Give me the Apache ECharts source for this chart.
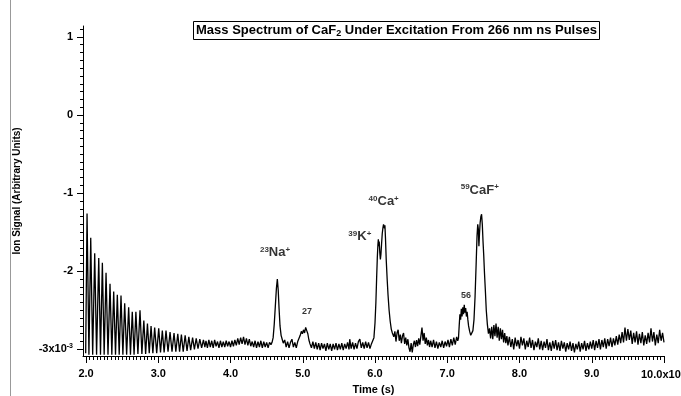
<!DOCTYPE html>
<html>
<head>
<meta charset="utf-8">
<script src="https://cdn.jsdelivr.net/npm/echarts@6/dist/echarts.min.js"></script>
<style>
  html, body { margin: 0; padding: 0; background: #fff; }
  #chart { width: 681px; height: 396px; }
</style>
</head>
<body>
<div id="chart"></div>
<script>
// time (x1e-6 s) / ion signal (x1e-3 arb. units)
var ringdown = [
  [1.995,-3.05],[2.014,-1.26],[2.040,-3.07],[2.065,-1.57],[2.092,-3.07],[2.120,-1.77],[2.146,-3.07],
  [2.176,-1.83],[2.200,-3.07],[2.226,-1.89],[2.251,-3.07],[2.277,-2.02],[2.304,-3.07],[2.332,-2.16],
  [2.357,-3.07],[2.383,-2.26],[2.408,-3.07],[2.433,-2.30],[2.459,-3.07],[2.484,-2.31],[2.510,-3.07],
  [2.535,-2.41],[2.562,-3.07],[2.590,-2.46],[2.615,-3.07],[2.640,-2.52],[2.665,-3.07],[2.690,-2.52],
  [2.718,-3.06],[2.747,-2.50],[2.773,-3.06],[2.800,-2.63],[2.825,-3.06],[2.850,-2.67],[2.875,-3.05],
  [2.900,-2.70],[2.925,-3.05],[2.950,-2.72],[2.978,-3.05],[3.006,-2.73],[3.031,-3.04],[3.056,-2.76],
  [3.081,-3.04],[3.107,-2.76],[3.135,-3.03],[3.163,-2.78],[3.190,-3.03],[3.218,-2.79],[3.243,-3.03],
  [3.270,-2.80],[3.295,-3.03],[3.320,-2.81],[3.345,-3.03],[3.372,-2.82],[3.398,-3.02],[3.423,-2.84],
  [3.448,-3.01],[3.475,-2.85],[3.500,-3.00],[3.525,-2.86],[3.550,-2.99],[3.575,-2.87],[3.600,-2.98],
  [3.625,-2.88],[3.645,-2.97]
];
var baselineA = [
  [3.66,-2.89],[3.68,-2.98],[3.70,-2.88],[3.72,-2.97],[3.74,-2.89],[3.76,-2.98],[3.78,-2.88],[3.80,-2.96],
  [3.82,-2.90],[3.84,-2.98],[3.86,-2.89],[3.88,-2.97],[3.90,-2.90],[3.92,-2.97],[3.94,-2.89],[3.96,-2.96],
  [3.98,-2.90],[4.00,-2.97],[4.02,-2.89],[4.04,-2.96],[4.06,-2.88],[4.08,-2.95],[4.10,-2.86],[4.12,-2.94],
  [4.14,-2.85],[4.16,-2.93],[4.18,-2.84],[4.20,-2.94],[4.22,-2.86],[4.24,-2.95],[4.26,-2.87],[4.28,-2.96],
  [4.30,-2.90],[4.32,-2.97],[4.34,-2.89],[4.36,-2.98],[4.38,-2.90],[4.40,-2.97],[4.42,-2.89],[4.44,-2.98],
  [4.46,-2.90],[4.48,-2.97],[4.50,-2.91],[4.52,-2.98],[4.54,-2.91]
];
var sodiumPeak = [
  [4.56,-2.94],[4.575,-2.91],[4.59,-2.85],[4.605,-2.68],[4.62,-2.45],[4.635,-2.22],[4.648,-2.10],
  [4.66,-2.24],[4.672,-2.48],[4.685,-2.70],[4.70,-2.82],[4.715,-2.87],[4.73,-2.92]
];
var baselineB = [
  [4.75,-2.88],[4.77,-2.97],[4.79,-2.90],[4.81,-2.98],[4.83,-2.91],[4.85,-2.87],[4.87,-2.97],
  [4.89,-2.91],[4.91,-2.98],[4.93,-2.90]
];
var mass27Bump = [
  [4.95,-2.88],[4.965,-2.82],[4.98,-2.77],[4.995,-2.80],[5.01,-2.75],[5.025,-2.79],[5.04,-2.72],
  [5.055,-2.76],[5.07,-2.80],[5.085,-2.88],[5.10,-2.93]
];
var baselineC = [
  [5.12,-2.98],[5.14,-2.90],[5.16,-2.99],[5.18,-2.91],[5.20,-3.00],[5.22,-2.92],[5.24,-3.01],[5.26,-2.92],
  [5.28,-2.99],[5.30,-2.93],[5.32,-3.02],[5.34,-2.92],[5.36,-3.00],[5.38,-2.93],[5.40,-3.02],[5.42,-2.93],
  [5.44,-3.00],[5.46,-2.92],[5.48,-3.01],[5.50,-2.93],[5.52,-3.00],[5.54,-2.92],[5.56,-3.01],[5.58,-2.93],
  [5.60,-2.99],[5.62,-2.91],[5.64,-3.00],[5.65,-2.87],[5.67,-2.99],[5.69,-2.91],[5.71,-3.00],[5.73,-2.92],
  [5.75,-2.99],[5.77,-2.90],[5.79,-2.87],[5.81,-2.98],[5.83,-2.91],[5.85,-2.99],[5.87,-2.90],[5.89,-2.98],
  [5.91,-2.91],[5.93,-2.99],[5.95,-2.93]
];
var potassiumCalciumPeak = [
  [5.97,-2.92],[5.985,-2.85],[6.00,-2.66],[6.012,-2.40],[6.022,-2.10],[6.032,-1.82],[6.04,-1.66],
  [6.046,-1.59],[6.052,-1.68],[6.058,-1.62],[6.066,-1.76],[6.074,-1.85],[6.082,-1.78],[6.09,-1.66],
  [6.10,-1.52],[6.11,-1.44],[6.118,-1.40],[6.125,-1.38],[6.131,-1.45],[6.137,-1.41],[6.145,-1.58],
  [6.155,-1.85],[6.168,-2.10],[6.18,-2.30],[6.195,-2.50],[6.21,-2.64],[6.225,-2.74],[6.24,-2.79]
];
var baselineD = [
  [6.26,-2.84],[6.275,-2.77],[6.29,-2.90],[6.305,-2.79],[6.32,-2.75],[6.335,-2.89],[6.35,-2.81],
  [6.365,-2.92],[6.38,-2.83],[6.395,-2.79],[6.41,-2.93],[6.425,-2.85],[6.44,-2.95],[6.455,-2.87],
  [6.47,-2.98],[6.485,-3.03],[6.50,-2.92],[6.515,-3.04],[6.53,-2.94],[6.545,-2.89],[6.56,-2.97],
  [6.575,-2.88],[6.59,-2.96],[6.605,-2.86],[6.62,-2.94],[6.635,-2.83],[6.65,-2.72],[6.665,-2.89],
  [6.68,-2.79],[6.695,-2.93],[6.71,-2.85],[6.725,-2.95],[6.74,-2.88],[6.755,-2.97],[6.77,-2.89],
  [6.79,-2.97],[6.81,-2.88],[6.83,-2.98],[6.85,-2.90],[6.87,-2.99],[6.89,-2.91],[6.91,-2.97],
  [6.93,-2.89],[6.95,-2.98],[6.97,-2.90],[6.99,-2.96],[7.01,-2.88],[7.03,-2.97],[7.05,-2.87],
  [7.07,-2.95],[7.09,-2.85],[7.11,-2.94],[7.13,-2.84],[7.145,-2.89]
];
var mass56Peak = [
  [7.155,-2.86],[7.165,-2.70],[7.175,-2.55],[7.185,-2.62],[7.195,-2.48],[7.205,-2.58],[7.215,-2.46],
  [7.225,-2.55],[7.235,-2.43],[7.245,-2.53],[7.255,-2.47],[7.265,-2.58],[7.275,-2.52],[7.285,-2.62],
  [7.295,-2.70],[7.31,-2.77],[7.325,-2.82],[7.34,-2.80]
];
var cafPeak = [
  [7.355,-2.76],[7.37,-2.62],[7.385,-2.32],[7.40,-1.90],[7.412,-1.55],[7.422,-1.40],[7.43,-1.46],
  [7.438,-1.68],[7.446,-1.52],[7.455,-1.38],[7.465,-1.30],[7.475,-1.27],[7.485,-1.40],[7.495,-1.62],
  [7.505,-1.80],[7.515,-2.02],[7.528,-2.26],[7.54,-2.50],[7.555,-2.68],[7.57,-2.80]
];
var cafShoulder = [
  [7.585,-2.73],[7.60,-2.86],[7.615,-2.71],[7.63,-2.87],[7.645,-2.69],[7.66,-2.83],[7.675,-2.67],
  [7.69,-2.85],[7.705,-2.71],[7.72,-2.89],[7.735,-2.73],[7.75,-2.87],[7.765,-2.75],[7.78,-2.91],
  [7.795,-2.79],[7.81,-2.92],[7.825,-2.83]
];
var baselineE = [
  [7.84,-2.95],[7.86,-2.84],[7.88,-2.97],[7.90,-2.87],[7.92,-3.00],[7.94,-2.85],[7.96,-2.96],[7.98,-2.88],
  [8.00,-2.99],[8.02,-2.84],[8.04,-2.95],[8.06,-2.86],[8.08,-3.00],[8.10,-2.89],[8.12,-2.97],[8.14,-2.85],
  [8.16,-2.98],[8.18,-2.88],[8.20,-3.01],[8.22,-2.90],[8.24,-2.97],[8.26,-2.86],[8.28,-3.00],[8.30,-2.89],
  [8.32,-3.01],[8.34,-2.90],[8.36,-2.98],[8.38,-2.87],[8.40,-3.01],[8.42,-2.91],[8.44,-3.02],[8.46,-2.89],
  [8.48,-2.99],[8.50,-2.88],[8.52,-3.01],[8.54,-2.91],[8.56,-3.02],[8.58,-2.89],[8.60,-2.99],[8.62,-2.91],
  [8.64,-3.03],[8.66,-2.92],[8.68,-3.00],[8.70,-2.90],[8.72,-3.02],[8.74,-2.92],[8.76,-3.04],[8.78,-2.93],
  [8.80,-3.00],[8.82,-2.90],[8.84,-3.03],[8.86,-2.92],[8.88,-3.00],[8.90,-2.89],[8.92,-3.02],[8.94,-2.92],
  [8.96,-3.00],[8.98,-2.90],[9.00,-2.99],[9.02,-2.88],[9.04,-3.01],[9.06,-2.89],[9.08,-2.98],[9.10,-2.87],
  [9.12,-3.00],[9.14,-2.88],[9.16,-2.97],[9.18,-2.86],[9.20,-2.99],[9.22,-2.87],[9.24,-2.96],[9.26,-2.85],
  [9.28,-2.97],[9.30,-2.86],[9.32,-2.95],[9.34,-2.83],[9.36,-2.94],[9.38,-2.81],[9.40,-2.92],[9.42,-2.78],
  [9.44,-2.91],[9.46,-2.72],[9.48,-2.89],[9.50,-2.74],[9.52,-2.88],[9.54,-2.76],[9.56,-2.93],[9.58,-2.79],
  [9.60,-2.91],[9.62,-2.77],[9.64,-2.94],[9.66,-2.80],[9.68,-2.92],[9.70,-2.78],[9.72,-2.95],[9.74,-2.82],
  [9.76,-2.93],[9.78,-2.79],[9.80,-2.91],[9.82,-2.73],[9.84,-2.90],[9.86,-2.78],[9.88,-2.95],[9.90,-2.81],
  [9.92,-2.92],[9.94,-2.75],[9.96,-2.89],[9.98,-2.79],[10.00,-2.91]
];

// peak labels: [time, signal, rich text]
var peakLabels = [
  [4.616, -1.76, '{sup|23}{m|Na}{sup|+}'],
  [5.06, -2.52, '{small|27}'],
  [5.79, -1.56, '{sup|39}{m|K}{sup|+}'],
  [6.12, -1.11, '{sup|40}{m|Ca}{sup|+}'],
  [7.26, -2.31, '{small|56}'],
  [7.45, -0.96, '{sup|59}{m|CaF}{sup|+}']
];

var xTickValues = [2, 3, 4, 5, 6, 7, 8, 9, 10];
var yTickValues = [-3, -2, -1, 0, 1];

var trace = [].concat(ringdown, baselineA, sodiumPeak, baselineB, mass27Bump, baselineC,
  potassiumCalciumPeak, baselineD, mass56Peak, cafPeak, cafShoulder, baselineE);

// minor tick positions (axis decoration only)
var xMinor = [];
for (var i = 1; i < 160; i++) { if (i % 20 !== 0) xMinor.push(+(2 + i * 0.05).toFixed(2)); }
var yMinor = [];
for (var j = -30; j <= 11; j++) { if (j % 10 !== 0) yMinor.push(j / 10); }

var FONT = 'Liberation Sans, Arial, sans-serif';
var X_MIN = 1.958, X_MAX = 10.0, Y_MIN = -3.085, Y_MAX = 1.14;

var chartDom = document.getElementById('chart');
var myChart = echarts.init(chartDom, null, { renderer: 'canvas' });

var supStyle = { fontFamily: FONT, fontWeight: 'bold', fontSize: 7, color: '#000', verticalAlign: 'top', padding: [0, 0, 6, 0] };

var option = {
  animation: false,
  backgroundColor: '#fff',
  textStyle: { fontFamily: FONT },
  title: {
    text: '{t|Mass Spectrum of CaF}{sub|2}{t| Under Excitation From 266 nm ns Pulses}',
    left: 193,
    top: 20,
    padding: [3, 3, 2, 3],
    borderColor: '#000',
    borderWidth: 1,
    textStyle: {
      rich: {
        t: { fontFamily: FONT, fontWeight: 'bold', fontSize: 13, color: '#000' },
        sub: { fontFamily: FONT, fontWeight: 'bold', fontSize: 9, color: '#000', verticalAlign: 'bottom', padding: [6, 0, 0, 0] }
      }
    }
  },
  grid: { left: 83, right: 17, top: 26, bottom: 40, outerBoundsMode: 'none', containLabel: false },
  xAxis: [
    {
      type: 'value',
      min: X_MIN,
      max: X_MAX,
      name: 'Time (s)',
      nameLocation: 'middle',
      nameGap: 28,
      nameTextStyle: { fontFamily: FONT, fontWeight: 'bold', fontSize: 11, color: '#000' },
      axisLine: { show: true, onZero: false, lineStyle: { color: '#000', width: 1 } },
      axisTick: { show: true, customValues: xTickValues, length: 7, lineStyle: { color: '#000' } },
      axisLabel: {
        customValues: xTickValues,
        margin: 12,
        color: '#000',
        fontFamily: FONT,
        fontWeight: 'bold',
        fontSize: 11,
        formatter: function (v) {
          if (v === 10) return '{b|10.0x10}{s|-6}';
          return v.toFixed(1);
        },
        rich: {
          b: { fontFamily: FONT, fontWeight: 'bold', fontSize: 11, color: '#000' },
          s: supStyle
        }
      },
      splitLine: { show: false }
    },
    {
      type: 'value',
      position: 'bottom',
      min: X_MIN,
      max: X_MAX,
      axisLine: { show: false, onZero: false },
      axisTick: { show: true, customValues: xMinor, length: 4, lineStyle: { color: '#000' } },
      axisLabel: { show: false },
      splitLine: { show: false }
    }
  ],
  yAxis: [
    {
      type: 'value',
      min: Y_MIN,
      max: Y_MAX,
      name: 'Ion Signal (Arbitrary Units)',
      nameLocation: 'middle',
      nameGap: 61,
      nameTextStyle: { fontFamily: FONT, fontWeight: 'bold', fontSize: 10, color: '#000' },
      axisLine: { show: true, onZero: false, lineStyle: { color: '#000', width: 1 } },
      axisTick: { show: true, customValues: yTickValues, length: 6, lineStyle: { color: '#000' } },
      axisLabel: {
        customValues: yTickValues,
        margin: 10,
        color: '#000',
        fontFamily: FONT,
        fontWeight: 'bold',
        fontSize: 11,
        formatter: function (v) {
          if (v === -3) return '{b|-3x10}{s|-3}';
          return String(v);
        },
        rich: {
          b: { fontFamily: FONT, fontWeight: 'bold', fontSize: 11, color: '#000' },
          s: supStyle
        }
      },
      splitLine: { show: false }
    },
    {
      type: 'value',
      position: 'left',
      min: Y_MIN,
      max: Y_MAX,
      axisLine: { show: false, onZero: false },
      axisTick: { show: true, customValues: yMinor, length: 3, lineStyle: { color: '#000' } },
      axisLabel: { show: false },
      splitLine: { show: false }
    }
  ],
  graphic: [
    { type: 'line', shape: { x1: 10.5, y1: 0, x2: 10.5, y2: 396 }, style: { stroke: '#999', lineWidth: 1 } }
  ],
  series: [
    {
      name: 'signal',
      type: 'line',
      data: trace,
      showSymbol: false,
      symbol: 'none',
      lineStyle: { color: '#000', width: 1.3 },
      clip: true
    },
    {
      name: 'labels',
      type: 'scatter',
      symbolSize: 0,
      data: peakLabels.map(function (p) { return { value: [p[0], p[1]], label: { formatter: p[2] } }; }),
      label: {
        show: true,
        position: 'inside',
        color: '#000',
        rich: {
          m: { fontFamily: FONT, fontWeight: 'bold', fontSize: 13, color: '#000' },
          sup: { fontFamily: FONT, fontWeight: 'bold', fontSize: 8, color: '#000', verticalAlign: 'top', padding: [0, 0, 6, 0] },
          small: { fontFamily: FONT, fontWeight: 'bold', fontSize: 9, color: '#000' }
        }
      }
    }
  ]
};

myChart.setOption(option);
</script>
</body>
</html>
